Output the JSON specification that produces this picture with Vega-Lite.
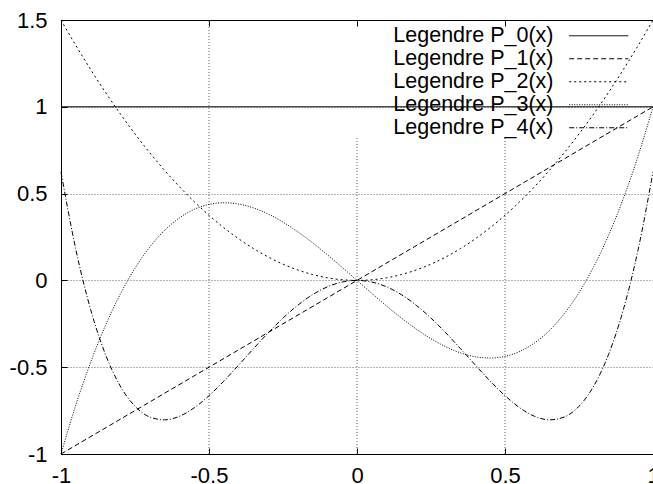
{
  "$schema": "https://vega.github.io/schema/vega-lite/v6.json",
  "width": 592,
  "height": 434,
  "autosize": {"type": "none"},
  "padding": {"left": 61, "top": 20, "right": 0, "bottom": 30},
  "background": "white",
  "config": {"view": {"stroke": null}, "font": "Liberation Sans"},
  "datasets": {
    "grid": [
      {"gx": -0.5, "gy1": -1, "gy2": 1.5},
      {"gx": 0, "gy1": -1, "gy2": 0.82},
      {"gx": 0.5, "gy1": -1, "gy2": 0.82}
    ],
    "curves": [
      {"s": "Legendre P_0(x)", "x": -1, "y": 1},
      {"s": "Legendre P_0(x)", "x": 0, "y": 1},
      {"s": "Legendre P_0(x)", "x": 1, "y": 1},
      {"s": "Legendre P_1(x)", "x": -1, "y": -1},
      {"s": "Legendre P_1(x)", "x": 0, "y": 0},
      {"s": "Legendre P_1(x)", "x": 1, "y": 1},
      {"s": "Legendre P_2(x)", "x": -1, "y": 1.5},
      {"s": "Legendre P_2(x)", "x": -0.95, "y": 1.3538},
      {"s": "Legendre P_2(x)", "x": -0.9, "y": 1.215},
      {"s": "Legendre P_2(x)", "x": -0.85, "y": 1.0838},
      {"s": "Legendre P_2(x)", "x": -0.8, "y": 0.96},
      {"s": "Legendre P_2(x)", "x": -0.75, "y": 0.8438},
      {"s": "Legendre P_2(x)", "x": -0.7, "y": 0.735},
      {"s": "Legendre P_2(x)", "x": -0.65, "y": 0.6338},
      {"s": "Legendre P_2(x)", "x": -0.6, "y": 0.54},
      {"s": "Legendre P_2(x)", "x": -0.55, "y": 0.4538},
      {"s": "Legendre P_2(x)", "x": -0.5, "y": 0.375},
      {"s": "Legendre P_2(x)", "x": -0.45, "y": 0.3038},
      {"s": "Legendre P_2(x)", "x": -0.4, "y": 0.24},
      {"s": "Legendre P_2(x)", "x": -0.35, "y": 0.1838},
      {"s": "Legendre P_2(x)", "x": -0.3, "y": 0.135},
      {"s": "Legendre P_2(x)", "x": -0.25, "y": 0.0938},
      {"s": "Legendre P_2(x)", "x": -0.2, "y": 0.06},
      {"s": "Legendre P_2(x)", "x": -0.15, "y": 0.0338},
      {"s": "Legendre P_2(x)", "x": -0.1, "y": 0.015},
      {"s": "Legendre P_2(x)", "x": -0.05, "y": 0.0038},
      {"s": "Legendre P_2(x)", "x": 0, "y": 0},
      {"s": "Legendre P_2(x)", "x": 0.05, "y": 0.0038},
      {"s": "Legendre P_2(x)", "x": 0.1, "y": 0.015},
      {"s": "Legendre P_2(x)", "x": 0.15, "y": 0.0338},
      {"s": "Legendre P_2(x)", "x": 0.2, "y": 0.06},
      {"s": "Legendre P_2(x)", "x": 0.25, "y": 0.0938},
      {"s": "Legendre P_2(x)", "x": 0.3, "y": 0.135},
      {"s": "Legendre P_2(x)", "x": 0.35, "y": 0.1838},
      {"s": "Legendre P_2(x)", "x": 0.4, "y": 0.24},
      {"s": "Legendre P_2(x)", "x": 0.45, "y": 0.3038},
      {"s": "Legendre P_2(x)", "x": 0.5, "y": 0.375},
      {"s": "Legendre P_2(x)", "x": 0.55, "y": 0.4538},
      {"s": "Legendre P_2(x)", "x": 0.6, "y": 0.54},
      {"s": "Legendre P_2(x)", "x": 0.65, "y": 0.6338},
      {"s": "Legendre P_2(x)", "x": 0.7, "y": 0.735},
      {"s": "Legendre P_2(x)", "x": 0.75, "y": 0.8438},
      {"s": "Legendre P_2(x)", "x": 0.8, "y": 0.96},
      {"s": "Legendre P_2(x)", "x": 0.85, "y": 1.0838},
      {"s": "Legendre P_2(x)", "x": 0.9, "y": 1.215},
      {"s": "Legendre P_2(x)", "x": 0.95, "y": 1.3538},
      {"s": "Legendre P_2(x)", "x": 1, "y": 1.5},
      {"s": "Legendre P_3(x)", "x": -1, "y": -1},
      {"s": "Legendre P_3(x)", "x": -0.95, "y": -0.7184},
      {"s": "Legendre P_3(x)", "x": -0.9, "y": -0.4725},
      {"s": "Legendre P_3(x)", "x": -0.85, "y": -0.2603},
      {"s": "Legendre P_3(x)", "x": -0.8, "y": -0.08},
      {"s": "Legendre P_3(x)", "x": -0.75, "y": 0.0703},
      {"s": "Legendre P_3(x)", "x": -0.7, "y": 0.1925},
      {"s": "Legendre P_3(x)", "x": -0.65, "y": 0.2884},
      {"s": "Legendre P_3(x)", "x": -0.6, "y": 0.36},
      {"s": "Legendre P_3(x)", "x": -0.55, "y": 0.4091},
      {"s": "Legendre P_3(x)", "x": -0.5, "y": 0.4375},
      {"s": "Legendre P_3(x)", "x": -0.45, "y": 0.4472},
      {"s": "Legendre P_3(x)", "x": -0.4, "y": 0.44},
      {"s": "Legendre P_3(x)", "x": -0.35, "y": 0.4178},
      {"s": "Legendre P_3(x)", "x": -0.3, "y": 0.3825},
      {"s": "Legendre P_3(x)", "x": -0.25, "y": 0.3359},
      {"s": "Legendre P_3(x)", "x": -0.2, "y": 0.28},
      {"s": "Legendre P_3(x)", "x": -0.15, "y": 0.2166},
      {"s": "Legendre P_3(x)", "x": -0.1, "y": 0.1475},
      {"s": "Legendre P_3(x)", "x": -0.05, "y": 0.0747},
      {"s": "Legendre P_3(x)", "x": 0, "y": 0},
      {"s": "Legendre P_3(x)", "x": 0.05, "y": -0.0747},
      {"s": "Legendre P_3(x)", "x": 0.1, "y": -0.1475},
      {"s": "Legendre P_3(x)", "x": 0.15, "y": -0.2166},
      {"s": "Legendre P_3(x)", "x": 0.2, "y": -0.28},
      {"s": "Legendre P_3(x)", "x": 0.25, "y": -0.3359},
      {"s": "Legendre P_3(x)", "x": 0.3, "y": -0.3825},
      {"s": "Legendre P_3(x)", "x": 0.35, "y": -0.4178},
      {"s": "Legendre P_3(x)", "x": 0.4, "y": -0.44},
      {"s": "Legendre P_3(x)", "x": 0.45, "y": -0.4472},
      {"s": "Legendre P_3(x)", "x": 0.5, "y": -0.4375},
      {"s": "Legendre P_3(x)", "x": 0.55, "y": -0.4091},
      {"s": "Legendre P_3(x)", "x": 0.6, "y": -0.36},
      {"s": "Legendre P_3(x)", "x": 0.65, "y": -0.2884},
      {"s": "Legendre P_3(x)", "x": 0.7, "y": -0.1925},
      {"s": "Legendre P_3(x)", "x": 0.75, "y": -0.0703},
      {"s": "Legendre P_3(x)", "x": 0.8, "y": 0.08},
      {"s": "Legendre P_3(x)", "x": 0.85, "y": 0.2603},
      {"s": "Legendre P_3(x)", "x": 0.9, "y": 0.4725},
      {"s": "Legendre P_3(x)", "x": 0.95, "y": 0.7184},
      {"s": "Legendre P_3(x)", "x": 1, "y": 1},
      {"s": "Legendre P_4(x)", "x": -1, "y": 0.625},
      {"s": "Legendre P_4(x)", "x": -0.95, "y": 0.1791},
      {"s": "Legendre P_4(x)", "x": -0.9, "y": -0.1671},
      {"s": "Legendre P_4(x)", "x": -0.85, "y": -0.4256},
      {"s": "Legendre P_4(x)", "x": -0.8, "y": -0.608},
      {"s": "Legendre P_4(x)", "x": -0.75, "y": -0.7251},
      {"s": "Legendre P_4(x)", "x": -0.7, "y": -0.7871},
      {"s": "Legendre P_4(x)", "x": -0.65, "y": -0.8034},
      {"s": "Legendre P_4(x)", "x": -0.6, "y": -0.783},
      {"s": "Legendre P_4(x)", "x": -0.55, "y": -0.734},
      {"s": "Legendre P_4(x)", "x": -0.5, "y": -0.6641},
      {"s": "Legendre P_4(x)", "x": -0.45, "y": -0.58},
      {"s": "Legendre P_4(x)", "x": -0.4, "y": -0.488},
      {"s": "Legendre P_4(x)", "x": -0.35, "y": -0.3937},
      {"s": "Legendre P_4(x)", "x": -0.3, "y": -0.3021},
      {"s": "Legendre P_4(x)", "x": -0.25, "y": -0.2173},
      {"s": "Legendre P_4(x)", "x": -0.2, "y": -0.143},
      {"s": "Legendre P_4(x)", "x": -0.15, "y": -0.0822},
      {"s": "Legendre P_4(x)", "x": -0.1, "y": -0.0371},
      {"s": "Legendre P_4(x)", "x": -0.05, "y": -0.0094},
      {"s": "Legendre P_4(x)", "x": 0, "y": 0},
      {"s": "Legendre P_4(x)", "x": 0.05, "y": -0.0094},
      {"s": "Legendre P_4(x)", "x": 0.1, "y": -0.0371},
      {"s": "Legendre P_4(x)", "x": 0.15, "y": -0.0822},
      {"s": "Legendre P_4(x)", "x": 0.2, "y": -0.143},
      {"s": "Legendre P_4(x)", "x": 0.25, "y": -0.2173},
      {"s": "Legendre P_4(x)", "x": 0.3, "y": -0.3021},
      {"s": "Legendre P_4(x)", "x": 0.35, "y": -0.3937},
      {"s": "Legendre P_4(x)", "x": 0.4, "y": -0.488},
      {"s": "Legendre P_4(x)", "x": 0.45, "y": -0.58},
      {"s": "Legendre P_4(x)", "x": 0.5, "y": -0.6641},
      {"s": "Legendre P_4(x)", "x": 0.55, "y": -0.734},
      {"s": "Legendre P_4(x)", "x": 0.6, "y": -0.783},
      {"s": "Legendre P_4(x)", "x": 0.65, "y": -0.8034},
      {"s": "Legendre P_4(x)", "x": 0.7, "y": -0.7871},
      {"s": "Legendre P_4(x)", "x": 0.75, "y": -0.7251},
      {"s": "Legendre P_4(x)", "x": 0.8, "y": -0.608},
      {"s": "Legendre P_4(x)", "x": 0.85, "y": -0.4256},
      {"s": "Legendre P_4(x)", "x": 0.9, "y": -0.1671},
      {"s": "Legendre P_4(x)", "x": 0.95, "y": 0.1791},
      {"s": "Legendre P_4(x)", "x": 1, "y": 0.625}
    ]
  },
  "layer": [
    {
      "data": {"name": "grid"},
      "mark": {"type": "rule", "stroke": "#666666", "strokeDash": [1, 2], "strokeWidth": 1},
      "encoding": {
        "x": {
          "field": "gx", "type": "quantitative",
          "scale": {"domain": [-1, 1], "nice": false, "zero": false},
          "axis": {
            "orient": "bottom", "values": [-1, -0.5, 0, 0.5, 1],
            "labelExpr": "datum.value + ''", "title": null, "grid": false,
            "domain": true, "domainColor": "black", "domainWidth": 1,
            "ticks": true, "tickSize": -6, "tickColor": "black", "tickWidth": 1,
            "labelFont": "Liberation Sans", "labelFontSize": 22, "labelColor": "black",
            "labelPadding": 17, "labelFlush": false, "labelOverlap": false
          }
        },
        "y": {
          "field": "gy1", "type": "quantitative",
          "scale": {"domain": [-1, 1.5], "nice": false, "zero": false},
          "axis": {
            "orient": "left", "values": [-1, -0.5, 0, 0.5, 1, 1.5],
            "labelExpr": "datum.value + ''", "title": null,
            "grid": true, "gridColor": "#666666", "gridDash": [1, 2], "gridWidth": 1,
            "domain": true, "domainColor": "black", "domainWidth": 1,
            "ticks": true, "tickSize": -6, "tickColor": "black", "tickWidth": 1,
            "labelFont": "Liberation Sans", "labelFontSize": 22, "labelColor": "black",
            "labelPadding": 20, "labelFlush": false, "labelOverlap": false
          }
        },
        "y2": {"field": "gy2"}
      }
    },
    {
      "data": {"name": "curves"},
      "mark": {"type": "line", "strokeWidth": 1, "color": "black", "interpolate": "monotone"},
      "encoding": {
        "x": {
          "field": "x", "type": "quantitative",
          "scale": {"domain": [-1, 1], "nice": false, "zero": false},
          "axis": {
            "orient": "top", "values": [-1, -0.5, 0, 0.5, 1], "labels": false,
            "title": null, "grid": false,
            "domain": true, "domainColor": "black", "domainWidth": 1,
            "ticks": true, "tickSize": -6, "tickColor": "black", "tickWidth": 1
          }
        },
        "y": {
          "field": "y", "type": "quantitative",
          "scale": {"domain": [-1, 1.5], "nice": false, "zero": false},
          "axis": null
        },
        "strokeDash": {
          "field": "s", "type": "nominal",
          "scale": {
            "domain": ["Legendre P_0(x)", "Legendre P_1(x)", "Legendre P_2(x)", "Legendre P_3(x)", "Legendre P_4(x)"],
            "range": [[1, 0], [5, 3], [2, 3], [1, 1.5], [5, 2, 1, 2]]
          },
          "legend": {
            "orient": "none", "legendX": 527, "legendY": 5, "title": null,
            "padding": 0, "symbolType": "M-3,0H3", "symbolSize": 388,
            "symbolStrokeWidth": 1, "symbolStrokeColor": "black", "symbolFillColor": "transparent",
            "labelAlign": "right", "labelOffset": -56, "labelBaseline": "middle",
            "labelFont": "Liberation Sans", "labelFontSize": 21.5, "labelColor": "black",
            "labelLimit": 0, "rowPadding": 0
          }
        }
      }
    }
  ],
  "resolve": {"axis": {"x": "independent", "y": "independent"}}
}
